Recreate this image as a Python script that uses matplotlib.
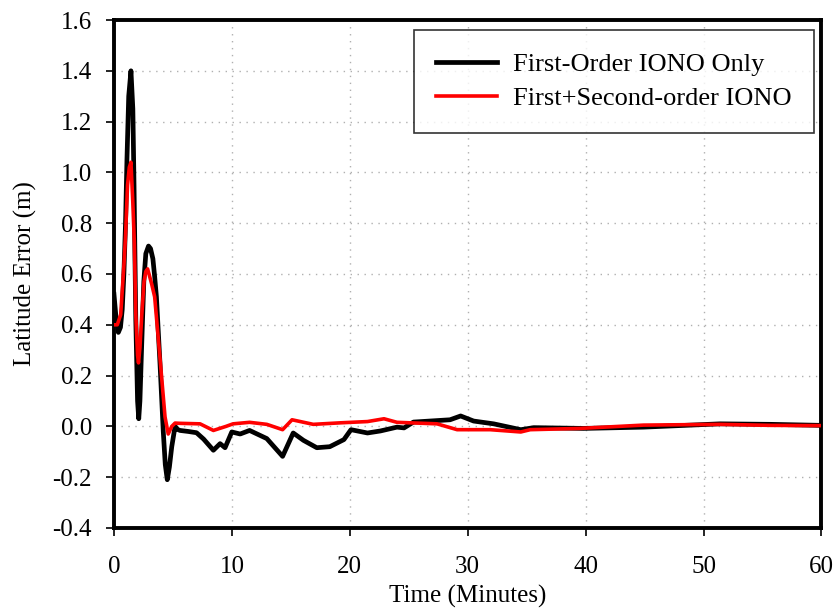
import matplotlib as mpl
mpl.use('Agg')
import matplotlib.pyplot as plt

# time (minutes) / latitude error (m)
t_first = [0.0, 0.15, 0.37, 0.55, 0.7, 0.84, 0.98, 1.1, 1.25, 1.44, 1.6, 1.7,
           1.85, 2.0, 2.1, 2.2, 2.35, 2.53, 2.7, 2.93, 3.1, 3.3, 3.45, 3.6, 3.9,
           4.18, 4.35, 4.52, 4.7, 4.9, 5.18, 5.4, 5.6, 6.3, 7.0, 7.6, 8.43, 9.0,
           9.42, 9.99, 10.7, 11.5, 12.96, 14.3, 15.2, 16.07, 17.2, 18.3, 19.5,
           20.1, 21.5, 22.6, 24.0, 24.6, 25.4, 28.5, 29.4, 30.5, 32.2, 34.5,
           35.6, 39.8, 44.9, 51.4, 55.7, 60.0]
e_first = [0.52, 0.44, 0.37, 0.39, 0.46, 0.6, 0.8, 1.05, 1.3, 1.40, 1.25, 0.95,
           0.42, 0.1, 0.03, 0.1, 0.32, 0.57, 0.68, 0.71, 0.70, 0.66, 0.59, 0.51,
           0.25, -0.02, -0.15, -0.21, -0.16, -0.08, 0.0, -0.012, -0.016, -0.02,
           -0.025, -0.05, -0.094, -0.068, -0.084, -0.022, -0.03, -0.016, -0.048,
           -0.118, -0.026, -0.055, -0.084, -0.08, -0.052, -0.013, -0.026,
           -0.018, -0.003, -0.006, 0.017, 0.026, 0.041, 0.021, 0.01, -0.013,
           -0.005, -0.008, -0.003, 0.01, 0.008, 0.004]

t_second = [0.0, 0.28, 0.57, 0.85, 0.98, 1.15, 1.3, 1.44, 1.6, 1.73, 1.85, 2.0,
            2.08, 2.2, 2.36, 2.55, 2.7, 2.85, 2.97, 3.2, 3.45, 3.9, 4.33, 4.6,
            4.9, 5.18, 5.6, 7.3, 8.43, 9.5, 10.1, 11.5, 12.96, 14.3, 15.1, 16.9,
            19.2, 21.5, 22.9, 24.0, 27.4, 29.1, 31.9, 34.5, 35.3, 39.5, 44.9,
            51.4, 55.7, 60.0]
e_second = [0.40, 0.40, 0.44, 0.64, 0.75, 0.95, 1.02, 1.04, 0.88, 0.72, 0.44,
            0.28, 0.25, 0.31, 0.44, 0.57, 0.61, 0.62, 0.60, 0.56, 0.51, 0.27,
            0.037, -0.03, 0.0, 0.013, 0.012, 0.01, -0.016, 0.0, 0.01, 0.016,
            0.008, -0.013, 0.026, 0.008, 0.014, 0.019, 0.03, 0.016, 0.01,
            -0.013, -0.013, -0.022, -0.013, -0.008, 0.005, 0.008, 0.004, 0.003]

x_ticks = [0, 10, 20, 30, 40, 50, 60]
y_ticks = [-0.4, -0.2, 0.0, 0.2, 0.4, 0.6, 0.8, 1.0, 1.2, 1.4, 1.6]

plt.rcParams['font.family'] = ['Liberation Serif', 'DejaVu Serif']

fig = plt.figure(figsize=(8.35, 6.12), dpi=100)
ax = fig.add_axes([0.1365, 0.1373, 0.8473, 0.83])

ax.plot(t_first, e_first, color='black', lw=3.4, label='First-Order IONO Only', zorder=3)
ax.plot(t_second, e_second, color='red', lw=2.6, label='First+Second-order IONO', zorder=4)

ax.set_xlim(0, 60)
ax.set_ylim(-0.4, 1.6)
ax.set_xticks(x_ticks)
ax.set_yticks(y_ticks)
ax.set_yticklabels(['%.1f' % v for v in y_ticks])
ax.tick_params(direction='out', length=6, width=1.2, labelsize=18)
ax.tick_params(axis='y', pad=10)
ax.tick_params(axis='x', pad=14)
ax.grid(True, color='#b0b0b0', linestyle=(0, (1, 4)), linewidth=1)
for s in ax.spines.values():
    s.set_linewidth(2.8)

ax.set_xlabel('Time (Minutes)', fontsize=18, labelpad=5)
ax.set_ylabel('Latitude Error (m)', fontsize=18, labelpad=11)

leg = ax.legend(loc='upper right', bbox_to_anchor=(0.989, 0.98), fontsize=19,
                frameon=True, fancybox=False, handlelength=2.3, handletextpad=0.6,
                borderpad=0.85, labelspacing=0.4, borderaxespad=0)
leg.get_frame().set_edgecolor('black')
leg.get_frame().set_linewidth(1.2)

fig.savefig('out.png', dpi=100)
